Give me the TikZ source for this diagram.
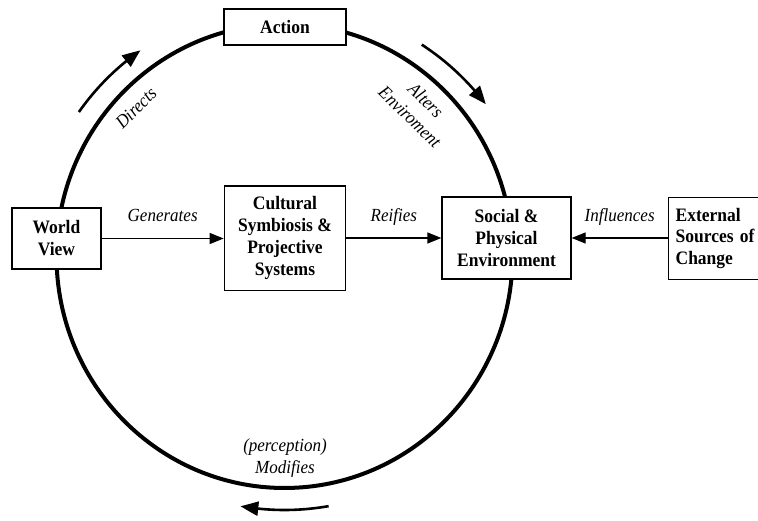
\documentclass[tikz,border=0pt]{standalone}
\usepackage{fontspec}
\setmainfont{Liberation Serif}[FakeStretch=0.92]
\usetikzlibrary{arrows.meta,bending}
\tikzset{
  box/.style={draw, line width=1.3pt, fill=white, inner sep=0pt, align=center,
    font={\fontsize{19pt}{22pt}\selectfont\bfseries}},
  lbl/.style={inner sep=0pt, align=center, font={\fontsize{18.5pt}{22pt}\selectfont\itshape}},
  conn/.style={line width=1.3pt, -{Triangle[length=14pt,width=11pt]}},
  outarrow/.style={line width=2.6pt, -{Triangle[length=18pt,width=14pt,bend]}},
  ring/.style={line width=4pt}
}
\begin{document}
\begin{tikzpicture}[x=1pt,y=1pt]
\useasboundingbox (0,0) rectangle (758,521);
\coordinate (c) at (284.5,265);
% main cycle
\draw[ring] (c) ellipse [x radius=228pt, y radius=232pt];
% outer arrows
\draw[outarrow] ([shift={(145:251pt)}]c) arc[start angle=145, end angle=125, radius=251pt];
\draw[outarrow] ([shift={(57:252pt)}]c) arc[start angle=57, end angle=37, radius=252pt];
\draw[outarrow] ([shift={(-80:254pt)}]c) arc[start angle=-80, end angle=-100, radius=254pt];
% boxes
\node[box, minimum width=122pt, minimum height=36pt] (act) at (285,494) {Action};
\node[box, minimum width=89pt, minimum height=61pt] (wv) at (56.5,282.5) {World\\View};
\node[box, minimum width=121.4pt, minimum height=104.7pt] (cs) at (285,282.7) {Cultural\\Symbiosis \&\\Projective\\Systems};
\node[box, minimum width=129pt, minimum height=82pt] (spe) at (506.5,283) {Social \&\\Physical\\Environment};
\node[box, minimum height=81.6pt, text width=80pt, inner xsep=7.3pt, align=left,
  anchor=west, font={\fontsize{19pt}{21.5pt}\selectfont\bfseries}] (ext) at (667.7,282.5) {External\\Sources of\\Change};
% connectors
\draw[conn] (wv.east) -- (wv.east -| cs.west)
  node[lbl, midway, anchor=base, yshift=16.5pt] (gen) {Generates};
\draw[conn] (cs.east |- spe.west) -- (spe.west)
  node[lbl, midway, anchor=base, yshift=16.5pt] (rei) {Reifies};
\draw[conn] (ext.west |- spe.east) -- (spe.east)
  node[lbl, midway, anchor=base, yshift=16.5pt] (inf) {Influences};
% cycle labels
\node[lbl, rotate=45] (dir) at (136,413) {Directs};
\node[lbl, rotate=-44, font={\fontsize{18.5pt}{23pt}\selectfont\itshape}] (alt) at (418,412.5) {Alters\\Enviroment};
\node[lbl] (mod) at (285,63) {(perception)\\Modifies};
\end{tikzpicture}
\end{document}
